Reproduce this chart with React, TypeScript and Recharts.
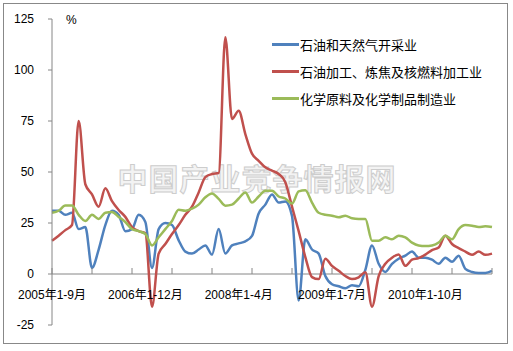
import { LineChart, Line, XAxis, YAxis, ReferenceLine } from "recharts";

const categories = [
  "2005年1-9月", "2005年1-10月", "2005年1-11月", "2005年1-12月",
  "2006年1-2月", "2006年1-3月", "2006年1-4月", "2006年1-5月", "2006年1-6月", "2006年1-7月",
  "2006年1-8月", "2006年1-9月", "2006年1-10月", "2006年1-11月", "2006年1-12月",
  "2007年1-2月", "2007年1-3月", "2007年1-4月", "2007年1-5月", "2007年1-6月", "2007年1-7月",
  "2007年1-8月", "2007年1-9月", "2007年1-10月", "2007年1-11月", "2007年1-12月",
  "2008年1-2月", "2008年1-3月", "2008年1-4月", "2008年1-5月", "2008年1-6月", "2008年1-7月",
  "2008年1-8月", "2008年1-9月", "2008年1-10月", "2008年1-11月", "2008年1-12月",
  "2009年1-2月", "2009年1-3月", "2009年1-4月", "2009年1-5月", "2009年1-6月", "2009年1-7月",
  "2009年1-8月", "2009年1-9月", "2009年1-10月", "2009年1-11月", "2009年1-12月",
  "2010年1-2月", "2010年1-3月", "2010年1-4月", "2010年1-5月", "2010年1-6月", "2010年1-7月",
  "2010年1-8月", "2010年1-9月", "2010年1-10月", "2010年1-11月", "2010年1-12月",
  "2011年1-2月", "2011年1-3月", "2011年1-4月", "2011年1-5月", "2011年1-6月", "2011年1-7月",
  "2011年1-8月", "2011年1-9月",
];

// 石油和天然气开采业
const oilGas = [
  31, 31, 29, 30, 22, 23, 3, 12, 24, 31,
  29, 21, 22, 29, 25.5, 3, 22, 25, 24, 16.5,
  11, 10, 12, 14, 9.5, 22, 10, 14, 15, 16,
  18.7, 29.7, 34, 39, 35, 35.6, 28.5, -13, 17, 12,
  10, -1, -5, -6, -7, -5.5, -6, 2, 14, 5,
  1, 5, 7.5, 9, 11, 8, 8, 7, 5, 8,
  6, 9, 2.5, 1, 0.5, 0.5, 1.5,
];

// 石油加工、炼焦及核燃料加工业
const refining = [
  16.3, 18.8, 21.5, 24, 75, 44, 39, 33, 42, 35.7,
  31.4, 28, 23, 21, 20, -16, 10, 14.7, 19.6, 24,
  29, 33, 40, 47.5, 49, 49.5, 116, 76, 80, 68.6,
  59, 55.5, 52.3, 50.7, 49, 45, 33, 21, 8.3, -1.5,
  -2.5, 7.5, 4, 1.6, -1, -2.5, -1.6, 0.8, -16, -1,
  5, 8, 9.5, 4, 7, 7.8, 9.5, 11.7, 13, 18.8,
  14.7, 12.7, 11, 9.4, 11, 9.4, 10,
];

// 化学原料及化学制品制造业
const chemical = [
  30, 31, 33.6, 33.6, 29, 26, 29, 27, 30, 30.4,
  28, 25.5, 22, 21, 19.6, 14, 18, 22, 26, 31.5,
  31, 32, 34, 37.6, 39.5, 36.8, 33.5, 34, 37, 40,
  35, 38, 40.8, 40.8, 38, 37, 34.5, 40.5, 41, 35,
  30, 29, 28.6, 27.8, 28.6, 27.3, 27, 27, 16.3, 16.3,
  18, 17, 18.8, 18, 15.4, 14, 13.7, 14, 15.4, 18.8,
  17, 22, 24, 23.7, 23, 23.4, 23,
];

const yTicks = [-25, 0, 25, 50, 75, 100, 125];

const seriesNames = ["石油和天然气开采业", "石油加工、炼焦及核燃料加工业", "化学原料及化学制品制造业"];
const seriesColors = ["#4F81BD", "#C0504D", "#9BBB59"];

const data = categories.map((name, i) => ({
  name,
  oilGas: oilGas[i],
  refining: refining[i],
  chemical: chemical[i],
}));

const W = 513;
const H = 351;
const TOP = 19;
const BOTTOM = 325;
const ZERO_Y = TOP + ((BOTTOM - TOP) * 125) / 150;
const FONT = "'Liberation Sans', 'Noto Sans CJK SC', sans-serif";

function XTick({ x, payload }) {
  const i = categories.indexOf(payload.value);
  return (
    <g>
      {i % 6 === 0 && <line x1={x} x2={x} y1={ZERO_Y - 6} y2={ZERO_Y} stroke="#868686" />}
      {i % 14 === 0 && (
        <text x={x} y={ZERO_Y + 25} textAnchor="middle" fontSize={12} fill="#000" fontFamily={FONT}>
          {payload.value}
        </text>
      )}
    </g>
  );
}

export default function App() {
  return (
    <div style={{ position: "absolute", left: 0, top: 0, width: W, height: H, background: "#fff", fontFamily: FONT }}>
      <div
        style={{
          position: "absolute",
          left: 3,
          top: 3,
          width: 503,
          height: 339,
          border: "1px solid #888",
        }}
      />
      <div
        style={{
          position: "absolute",
          left: 112,
          top: 155,
          width: 290,
          textAlign: "center",
          fontSize: 30,
          fontWeight: 700,
          letterSpacing: 1,
          color: "#f3f3f3",
          WebkitTextStroke: "1px #cdcdcd",
          fontFamily: "'Noto Sans CJK SC', sans-serif",
          whiteSpace: "nowrap",
        }}
      >
        中国产业竞争情报网
      </div>
      <div style={{ position: "absolute", left: 0, top: 0 }}>
        <LineChart width={W} height={H} data={data} margin={{ top: TOP, right: 21, bottom: 6, left: 12 }}>
          <XAxis
            dataKey="name"
            interval={0}
            axisLine={false}
            tickLine={false}
            height={20}
            tick={XTick}
          />
          <YAxis
            domain={[-25, 125]}
            ticks={yTicks}
            width={40}
            axisLine={{ stroke: "#868686" }}
            tickLine={{ stroke: "#868686" }}
            tickSize={4}
            tickMargin={14}
            tick={{ fontSize: 12, fill: "#000", fontFamily: FONT }}
            interval={0}
          />
          <ReferenceLine y={0} stroke="#868686" />
          <Line type="monotone" dataKey="oilGas" stroke={seriesColors[0]} strokeWidth={2.5} dot={false} isAnimationActive={false} />
          <Line type="monotone" dataKey="refining" stroke={seriesColors[1]} strokeWidth={2.5} dot={false} isAnimationActive={false} />
          <Line type="monotone" dataKey="chemical" stroke={seriesColors[2]} strokeWidth={2.5} dot={false} isAnimationActive={false} />
        </LineChart>
      </div>
      <div style={{ position: "absolute", left: 66, top: 13, fontSize: 12 }}>%</div>
      <div style={{ position: "absolute", left: 272, top: 31, fontFamily: "'Noto Sans CJK SC', sans-serif" }}>
        {seriesNames.map((n, i) => (
          <div key={n} style={{ display: "flex", alignItems: "center", height: 27, fontSize: 13 }}>
            <span style={{ display: "inline-block", width: 27, height: 2.5, background: seriesColors[i], marginRight: 1 }} />
            <span>{n}</span>
          </div>
        ))}
      </div>
    </div>
  );
}
